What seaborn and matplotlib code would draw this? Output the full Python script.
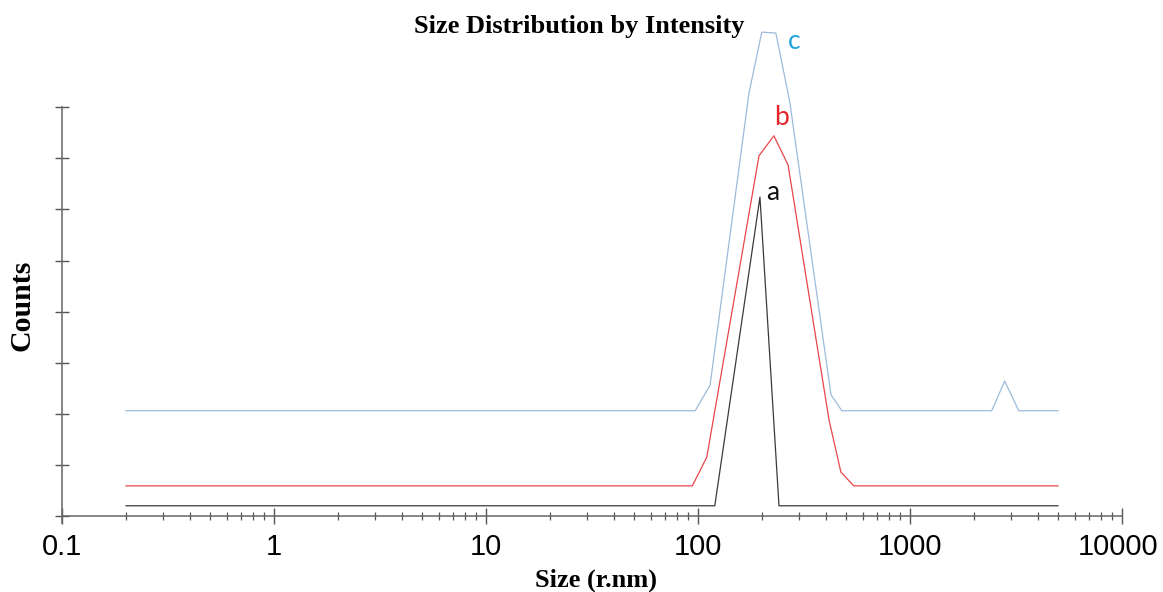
import numpy as np
import pandas as pd
import matplotlib
matplotlib.use("Agg")
import matplotlib.pyplot as plt
import matplotlib.transforms as mtransforms
import seaborn as sns

# ---- data ----
size_a = [0.2, 120, 196, 241, 5000]
counts_a = [0.20, 0.20, 6.24, 0.20, 0.20]

size_b = [0.2, 94, 110, 194, 228, 266, 415, 472, 543, 5000]
counts_b = [0.59, 0.59, 1.15, 7.05, 7.44, 6.87, 1.88, 0.86, 0.59, 0.59]

size_c = [0.2, 97, 114, 174, 200, 233, 271, 424, 477, 2428, 2797, 3258, 5000]
counts_c = [2.06, 2.06, 2.56, 8.28, 9.47, 9.45, 8.10, 2.37, 2.06, 2.06, 2.64, 2.06, 2.06]

series_names = ["a", "b", "c"]
series_colors = ["#3a3a3a", "#e8454a", "#9dbbdc"]
label_colors = ["#111111", "#e5232a", "#20a4dc"]
label_pos = [(226, 6.34), (249, 7.79), (284, 9.28)]

xtick_values = [0.1, 1, 10, 100, 1000, 10000]
xtick_labels = ["0.1", "1", "10", "100", "1000", "10000"]
ytick_values = [0, 1, 2, 3, 4, 5, 6, 7, 8]

title = "Size Distribution by Intensity"
xlabel = "Size (r.nm)"
ylabel = "Counts"

df = pd.concat([
    pd.DataFrame({"size": size_a, "counts": counts_a, "sample": "a"}),
    pd.DataFrame({"size": size_b, "counts": counts_b, "sample": "b"}),
    pd.DataFrame({"size": size_c, "counts": counts_c, "sample": "c"}),
], ignore_index=True)

sns.set_theme(style="white")
plt.rcParams["font.family"] = ["Liberation Sans", "DejaVu Sans"]

W, H = 1163, 592
fig = plt.figure(figsize=(W / 100, H / 100), dpi=100)
x0, x1 = 62, 1122
yb, yt = 516, 5
ax = fig.add_axes([x0 / W, 1 - yb / H, (x1 - x0) / W, (yb - yt) / H])

for name, col in zip(series_names, series_colors):
    sub = df[df["sample"] == name]
    sns.lineplot(data=sub, x="size", y="counts", ax=ax, color=col,
                 linewidth=0.9, sort=False, estimator=None, clip_on=False)

ax.set_xscale("log")
ax.set_xlim(0.1, 10000)
ax.set_ylim(0, 10)

ax.set_xticks(xtick_values)
ax.set_xticklabels(xtick_labels, fontsize=21, color="#000000")
minor = [m * 10.0 ** e for e in range(-1, 4) for m in range(2, 10)]
ax.set_xticks(minor, minor=True)
ax.set_xticklabels([], minor=True)
ax.set_yticks(ytick_values)
ax.set_yticklabels([])

ax.tick_params(axis="x", which="major", direction="inout", length=11,
               width=1.0, color="#555555", pad=7, bottom=True)
ax.tick_params(axis="x", which="minor", direction="inout", length=5.5,
               width=0.9, color="#555555", bottom=True)
ax.tick_params(axis="y", which="major", direction="inout", length=10,
               width=1.0, color="#555555", left=True)

# keep the last label inside the canvas
last = ax.get_xticklabels()[-1]
last.set_transform(last.get_transform() +
                   mtransforms.ScaledTranslation(-4 / 100, 0, fig.dpi_scale_trans))

for s in ["top", "right"]:
    ax.spines[s].set_visible(False)
for s in ["left", "bottom"]:
    ax.spines[s].set_color("#666666")
    ax.spines[s].set_linewidth(1.1)
ax.spines["left"].set_bounds(-0.14, 8)
ax.set_xlabel("")
ax.set_ylabel("")
if ax.get_legend() is not None:
    ax.get_legend().remove()

for name, col, (lx, ly) in zip(series_names, label_colors, label_pos):
    ax.text(lx, ly, name, color=col, fontsize=19, ha="center", va="center",
            family=["Lato", "DejaVu Sans"], clip_on=False)

serif = ["Liberation Serif", "DejaVu Serif"]
fig.text(579 / W, 1 - 27 / H, title, ha="center", va="center", color="black",
         fontsize=19, fontweight="bold", family=serif)
fig.text(596 / W, 1 - 580 / H, xlabel, ha="center", va="center", color="black",
         fontsize=19, fontweight="bold", family=serif)
fig.text(22 / W, 1 - 305 / H, ylabel, ha="center", va="center", color="black",
         rotation=90, fontsize=21.5, fontweight="bold", family=serif)

fig.savefig("out.png", dpi=100)
